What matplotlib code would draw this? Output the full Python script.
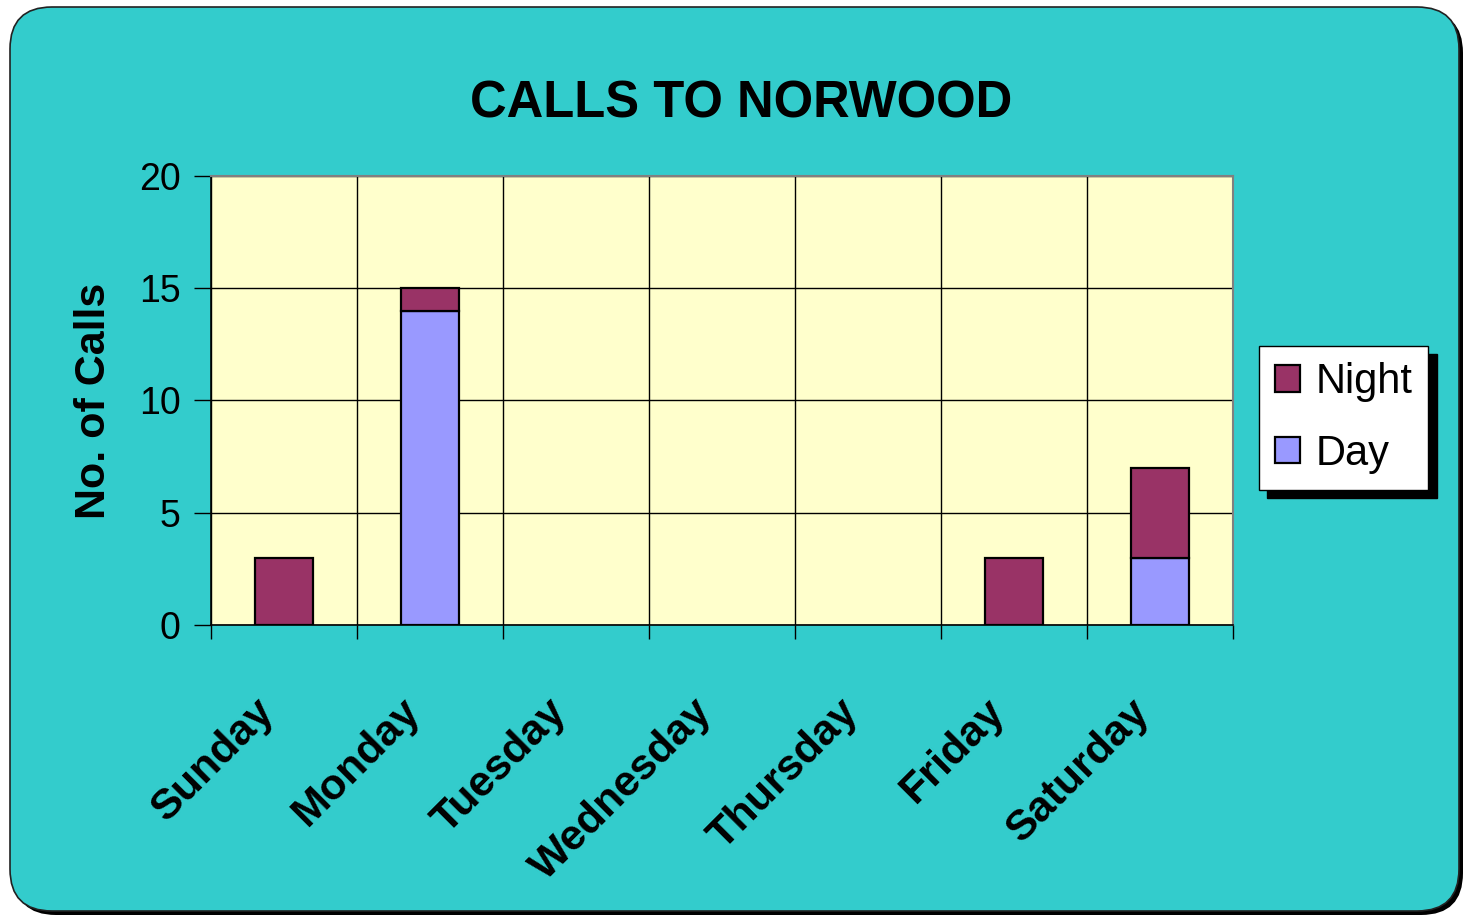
import matplotlib.pyplot as plt
from matplotlib.patches import FancyBboxPatch
from matplotlib.transforms import ScaledTranslation
import numpy as np

days = ['Sunday', 'Monday', 'Tuesday', 'Wednesday', 'Thursday', 'Friday', 'Saturday']
day_calls = np.array([0, 14, 0, 0, 0, 0, 3])
night_calls = np.array([3, 1, 0, 0, 0, 3, 4])
y_ticks = [0, 5, 10, 15, 20]

teal = '#33CCCC'
plot_bg = '#FFFFCC'
night_col = '#993366'
day_col = '#9999FF'

plt.rcParams['font.family'] = ['Liberation Sans', 'DejaVu Sans']

W, H = 1463, 915
fig = plt.figure(figsize=(W / 100, H / 100), dpi=100, facecolor='white')

# rounded teal background with drop shadow, drawn in pixel units
bg = fig.add_axes([0, 0, 1, 1], zorder=-10)
bg.set_xlim(0, W)
bg.set_ylim(H, 0)
bg.axis('off')
bg.add_patch(FancyBboxPatch((14, 11), 1449, 904, boxstyle='round,pad=0,rounding_size=42',
                            facecolor='black', edgecolor='none'))
bg.add_patch(FancyBboxPatch((10, 7), 1449, 904, boxstyle='round,pad=0,rounding_size=42',
                            facecolor=teal, edgecolor='#222222', linewidth=1.2))

ax = fig.add_axes([211 / W, 1 - 625 / H, (1233 - 211) / W, (625 - 176) / H])
ax.set_facecolor(plot_bg)

x = np.arange(len(days)) + 0.5
# empty segments are not drawn at all
d = day_calls > 0
n = night_calls > 0
ax.bar(x[d], day_calls[d], width=0.4, color=day_col, edgecolor='black', linewidth=1.6,
       label='Day', zorder=3)
ax.bar(x[n], night_calls[n], width=0.4, bottom=day_calls[n], color=night_col,
       edgecolor='black', linewidth=1.6, label='Night', zorder=3)

ax.set_xlim(0, len(days))
ax.set_ylim(0, 20)
ax.set_yticks(y_ticks)
ax.set_xticks(np.arange(len(days) + 1))
ax.set_xticklabels([])
ax.set_xticks(x, minor=True)
ax.set_xticklabels(days, minor=True, rotation=45, ha='right', va='center',
                   rotation_mode='anchor', fontsize=31, fontweight='bold')
ax.tick_params(axis='x', which='minor', length=0, pad=58)
ax.tick_params(axis='x', which='major', direction='out', length=10, width=1, color='black')
ax.tick_params(axis='y', direction='out', length=12, width=1, color='black', labelsize=27, pad=10)
shift = ScaledTranslation(-16 / 100, 0, fig.dpi_scale_trans)
for lab in ax.get_xticklabels(minor=True):
    lab.set_transform(lab.get_transform() + shift)

ax.grid(True, which='major', color='black', linewidth=1, zorder=0)
ax.set_axisbelow(True)
for side in ['top', 'right']:
    ax.spines[side].set_color('#808080')
    ax.spines[side].set_linewidth(1.5)
for side in ['left', 'bottom']:
    ax.spines[side].set_color('black')
    ax.spines[side].set_linewidth(1.2)

ax.set_ylabel('No. of Calls', fontsize=31, fontweight='bold', labelpad=18)
fig.text(0.5065, 0.886, 'CALLS TO NORWOOD', ha='center', va='center',
         fontsize=36.5, fontweight='bold')

handles, labels = ax.get_legend_handles_labels()
leg = ax.legend(handles[::-1], labels[::-1], loc='upper left',
                bbox_to_anchor=(1259 / W, 1 - 346 / H), bbox_transform=fig.transFigure,
                borderaxespad=0, fontsize=30, fancybox=False, framealpha=1,
                edgecolor='black', facecolor='white', handlelength=0.6, handleheight=0.6,
                handletextpad=0.36, labelspacing=0.75, borderpad=0.39,
                shadow={'ox': 6, 'oy': -6, 'color': 'black', 'alpha': 1})
leg.get_frame().set_linewidth(1)

fig.savefig('out.png', dpi=100, facecolor='white')
